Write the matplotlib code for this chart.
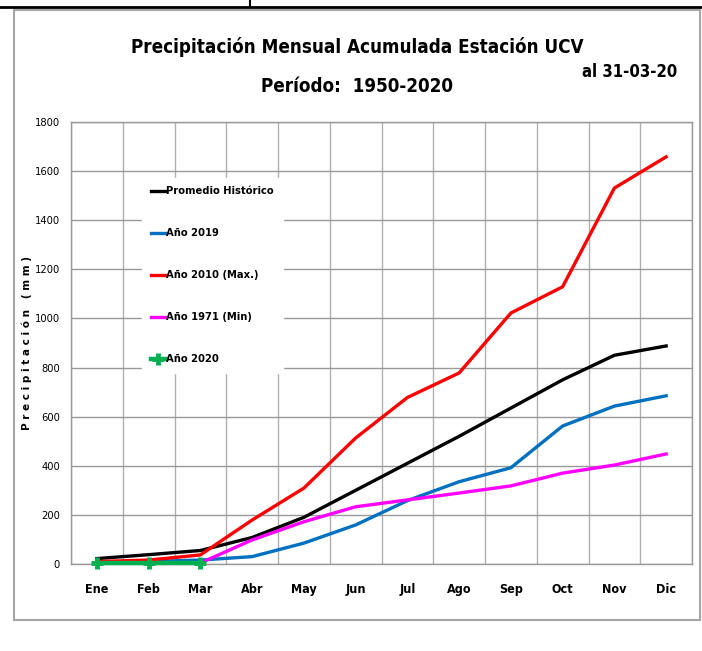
import matplotlib
matplotlib.use("Agg")
import matplotlib.pyplot as plt
from matplotlib.lines import Line2D
from matplotlib.patches import Rectangle

meses = ["Ene", "Feb", "Mar", "Abr", "May", "Jun", "Jul", "Ago", "Sep", "Oct", "Nov", "Dic"]
promedio = [22, 38, 55, 108, 190, 300, 410, 520, 635, 750, 850, 888]
anio_2019 = [8, 10, 16, 30, 85, 159, 258, 335, 392, 562, 643, 685]
anio_2010 = [10, 16, 37, 179, 309, 513, 678, 778, 1022, 1129, 1531, 1658]
anio_1971 = [2, 3, 4, 98, 172, 233, 261, 289, 318, 370, 403, 448]
anio_2020 = [6, 6, 6]

NARROW = dict(family="DejaVu Sans", stretch="condensed")
W, H = 702, 651

fig = plt.figure(figsize=(W / 100, H / 100), dpi=100)


def fx(px):
    return px / W


def fy(py):
    return 1 - py / H


# table lines at the top of the page and the chart frame
fig.add_artist(Line2D([0, 1], [fy(7), fy(7)], color="black", lw=2))
fig.add_artist(Line2D([fx(250), fx(250)], [fy(0), fy(7)], color="black", lw=1.5))
fig.add_artist(Rectangle((fx(14), fy(620)), fx(700) - fx(14), fy(10) - fy(620),
                         facecolor="white", edgecolor="#a6a6a6", lw=1.5, zorder=-5))

ax = fig.add_axes([fx(71), fy(564), fx(692) - fx(71), fy(122) - fy(564)])
ax.set_zorder(2)
x = list(range(len(meses)))
ax.plot(x, promedio, color="black", lw=2.4, label="Promedio Histórico")
ax.plot(x, anio_2019, color="#0070C0", lw=2.4, label="Año 2019")
ax.plot(x, anio_2010, color="#FF0000", lw=2.4, label="Año 2010 (Max.)")
ax.plot(x, anio_1971, color="#FF00FF", lw=2.4, label="Año 1971 (Min)")
ax.plot(x[:3], anio_2020, color="#00B050", lw=3.2, marker="+", ms=9, mew=3.5,
        label="Año 2020", zorder=5, clip_on=False)

ax.set_xlim(-0.5, 11.5)
ax.set_ylim(0, 1800)
ax.set_yticks(range(0, 1801, 200))
ax.set_xticks(x)
ax.set_xticklabels(meses, fontweight="bold", fontsize=9, **NARROW)
ax.set_xticks([i + 0.5 for i in range(-1, 12)], minor=True)
for lab in ax.get_yticklabels():
    lab.set_family("DejaVu Sans")
    lab.set_stretch("condensed")
    lab.set_fontsize(8)
ax.tick_params(axis="x", which="both", length=0, pad=14)
ax.tick_params(axis="y", which="both", length=0, pad=8)
ax.grid(True, axis="y", which="major", color="#999999", lw=1)
ax.grid(True, axis="x", which="minor", color="#b0b0b0", lw=1)
ax.set_axisbelow(True)
for s in ax.spines.values():
    s.set_color("#999999")
    s.set_linewidth(1)

ax.set_ylabel("P r e c i p i t a c i ó n   ( m m )", fontsize=7.5,
              fontweight="bold", family="DejaVu Sans", labelpad=2)

leg = ax.legend(loc="upper left", bbox_to_anchor=(0.105, 0.887), frameon=True,
                fancybox=False, edgecolor="white", framealpha=1,
                labelspacing=2.88, handlelength=1.4, handletextpad=0.0,
                borderpad=0.8,
                prop={"family": "DejaVu Sans", "stretch": "condensed",
                      "weight": "bold", "size": 8})

fig.text(fx(357), fy(47), "Precipitación Mensual Acumulada Estación UCV",
         ha="center", va="center", fontweight="bold", fontsize=13.5, **NARROW)
fig.text(fx(357), fy(86), "Período:  1950-2020", ha="center", va="center",
         fontweight="bold", fontsize=13.5, **NARROW)
fig.text(fx(677), fy(72), "al 31-03-20", ha="right", va="center",
         fontweight="bold", fontsize=12, **NARROW)

fig.savefig("out.png", dpi=100)
